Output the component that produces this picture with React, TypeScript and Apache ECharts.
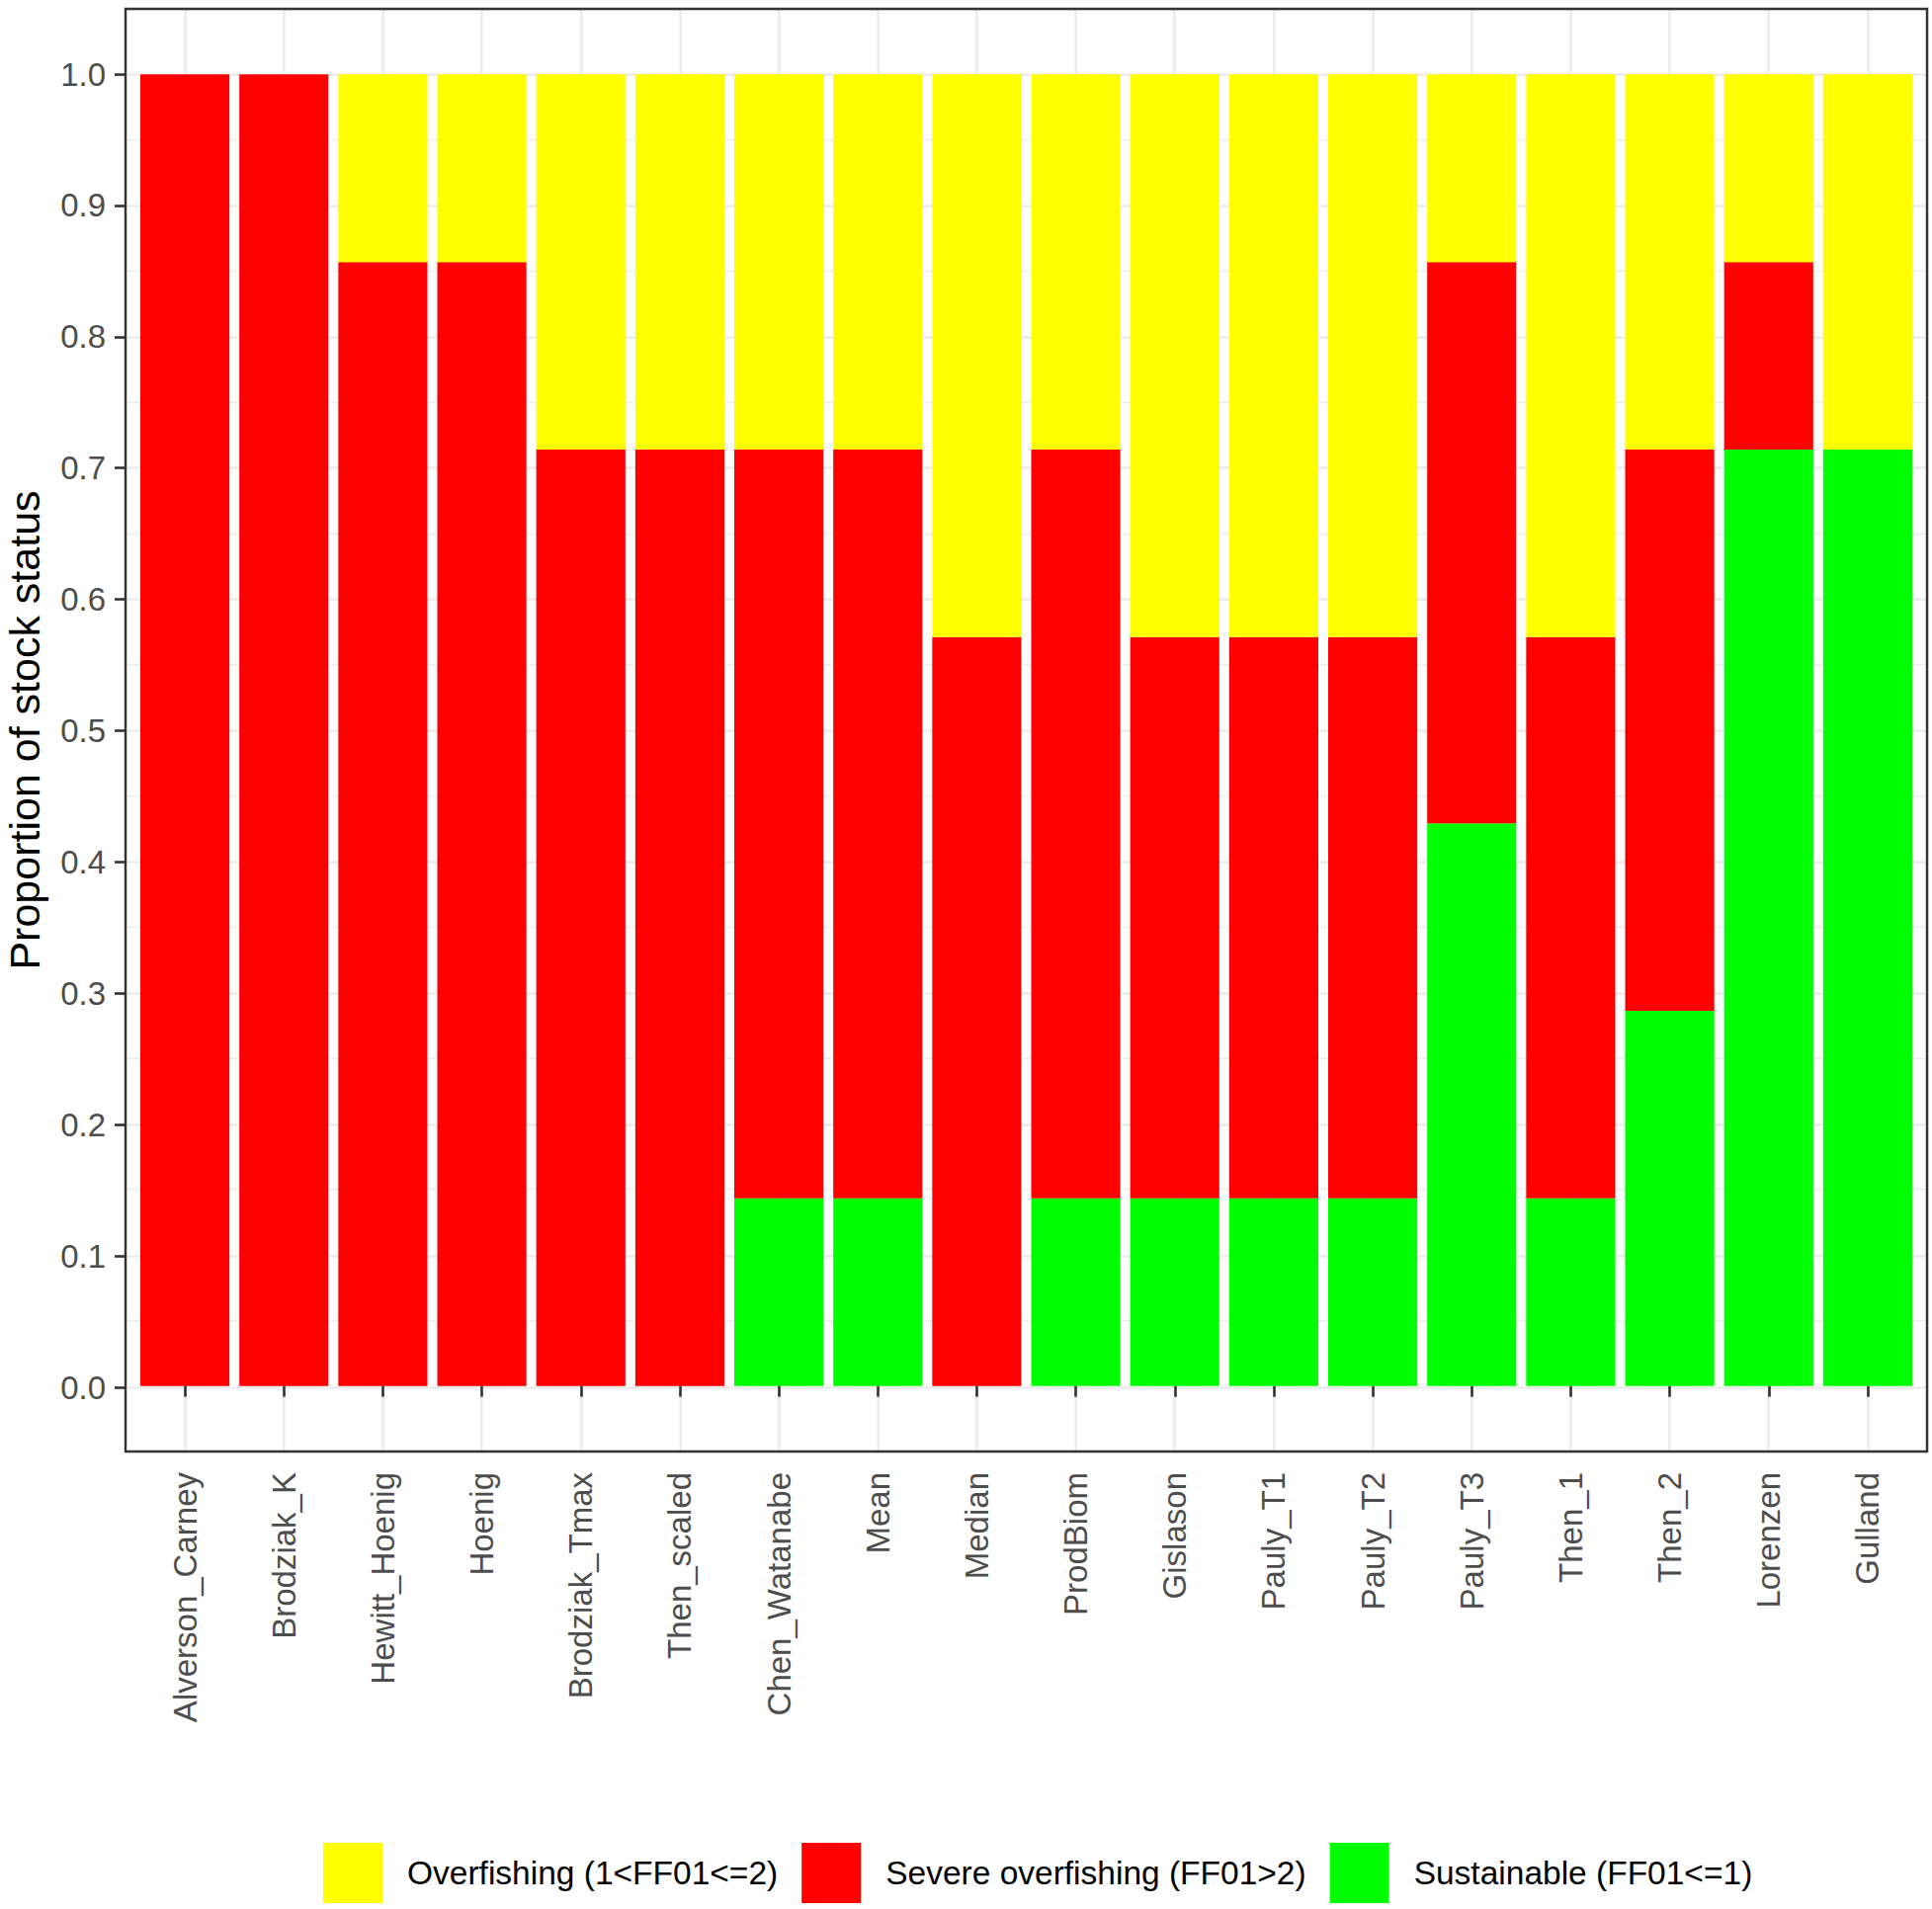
import React, { useEffect, useRef } from "react";
import * as echarts from "echarts";

const categories = [
  "Alverson_Carney", "Brodziak_K", "Hewitt_Hoenig", "Hoenig", "Brodziak_Tmax", "Then_scaled",
  "Chen_Watanabe", "Mean", "Median", "ProdBiom", "Gislason", "Pauly_T1", "Pauly_T2", "Pauly_T3",
  "Then_1", "Then_2", "Lorenzen", "Gulland",
];
const sustainable = [0, 0, 0, 0, 0, 0, 0.143, 0.143, 0, 0.143, 0.143, 0.143, 0.143, 0.429, 0.143, 0.286, 0.714, 0.714];
const severe = [1, 1, 0.857, 0.857, 0.714, 0.714, 0.571, 0.571, 0.571, 0.571, 0.428, 0.428, 0.428, 0.428, 0.428, 0.428, 0.143, 0];
const overfishing = [0, 0, 0.143, 0.143, 0.286, 0.286, 0.286, 0.286, 0.429, 0.286, 0.429, 0.429, 0.429, 0.143, 0.429, 0.286, 0.143, 0.286];

const seriesNames = ["Overfishing (1<FF01<=2)", "Severe overfishing (FF01>2)", "Sustainable (FF01<=1)"];
const seriesColors = ["#FFFF00", "#FF0000", "#00FF00"];
const yTitle = "Proportion of stock status";

const FONT = "'Liberation Sans', Arial, Helvetica, sans-serif";

export default function App() {
  const ref = useRef<HTMLDivElement>(null);
  useEffect(() => {
    if (!ref.current) return;
    const chart = echarts.init(ref.current, null, { renderer: "svg" });
    const hidden = {
      axisLine: { show: false },
      axisTick: { show: false },
      axisLabel: { show: false },
    };
    const option: any = {
      animation: false,
      backgroundColor: "#FFFFFF",
      textStyle: { fontFamily: FONT },
      grid: [
        // panel (border drawn above the grid lines)
        { left: 127, right: 5, top: 9, bottom: 463, show: true, z: 10, borderColor: "#333333", borderWidth: 2.4, backgroundColor: "transparent", containLabel: false, outerBoundsMode: "none" },
        // bars + category axis
        { left: 137, right: 15, top: 9, bottom: 463, containLabel: false, outerBoundsMode: "none" },
        // major y grid / labels
        { left: 127, right: 5, top: 75, bottom: 528, containLabel: false, outerBoundsMode: "none" },
      ],
      xAxis: [
        {
          gridIndex: 0, type: "value", min: -0.6, max: 17.6, splitNumber: 18, ...hidden,
          splitLine: { show: true, lineStyle: { color: "#EBEBEB", width: 2.6 } },
        },
        {
          gridIndex: 1, type: "category", data: categories, boundaryGap: true,
          axisLine: { show: false },
          axisTick: { show: true, alignWithLabel: true, length: 11, lineStyle: { color: "#333333", width: 2.6 } },
          axisLabel: { show: true, rotate: 90, interval: 0, margin: 21, fontSize: 33, color: "#4D4D4D", fontFamily: FONT },
          splitLine: { show: false },
        },
        { gridIndex: 2, type: "value", min: 0, max: 1, ...hidden, splitLine: { show: false } },
      ],
      yAxis: [
        {
          gridIndex: 0, type: "value", min: -0.05, max: 1.05, interval: 0.1, ...hidden,
          splitLine: { show: true, lineStyle: { color: "#EBEBEB", width: 1.3 } },
        },
        { gridIndex: 1, type: "value", min: -0.05, max: 1.05, ...hidden, splitLine: { show: false } },
        {
          gridIndex: 2, type: "value", min: 0, max: 1, interval: 0.1,
          axisLine: { show: false, onZero: false },
          axisTick: { show: true, length: 11, lineStyle: { color: "#333333", width: 2.6 } },
          axisLabel: { show: true, margin: 20, fontSize: 33, color: "#4D4D4D", fontFamily: FONT, formatter: (v: number) => v.toFixed(1) },
          splitLine: { show: true, lineStyle: { color: "#EBEBEB", width: 2.6 } },
        },
      ],
      graphic: [
        {
          type: "text", x: 25, y: 739, rotation: Math.PI / 2, silent: true,
          style: { text: yTitle, fontSize: 43, fontFamily: FONT, fill: "#000000", align: "center", verticalAlign: "middle" },
        },
      ],
      legend: {
        left: 327, top: 1865, orient: "horizontal", padding: 0,
        itemWidth: 60, itemHeight: 61, itemGap: 24, icon: "rect",
        data: seriesNames,
        textStyle: { fontSize: 33.5, color: "#000000", fontFamily: FONT, padding: [0, 0, 0, 20] },
      },
      series: [
        { name: seriesNames[2], type: "bar", stack: "s", xAxisIndex: 1, yAxisIndex: 1, barWidth: "90%", data: sustainable, itemStyle: { color: seriesColors[2] }, silent: true },
        { name: seriesNames[1], type: "bar", stack: "s", xAxisIndex: 1, yAxisIndex: 1, barWidth: "90%", data: severe, itemStyle: { color: seriesColors[1] }, silent: true },
        { name: seriesNames[0], type: "bar", stack: "s", xAxisIndex: 1, yAxisIndex: 1, barWidth: "90%", data: overfishing, itemStyle: { color: seriesColors[0] }, silent: true },
      ],
    };
    chart.setOption(option);
    return () => chart.dispose();
  }, []);
  return <div ref={ref} style={{ position: "absolute", left: 0, top: 0, width: 1955, height: 1932 }} />;
}
